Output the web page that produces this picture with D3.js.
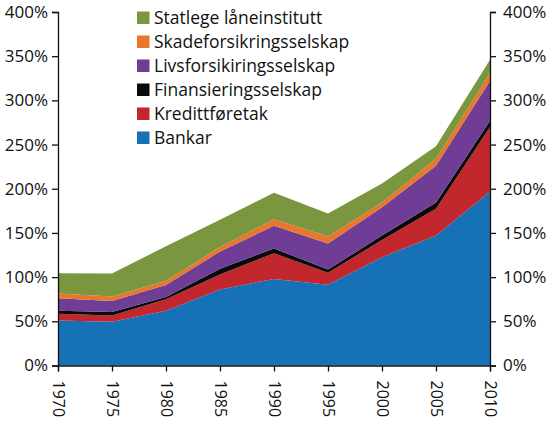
<!DOCTYPE html>
<html><head><meta charset="utf-8">
<script src="https://cdn.jsdelivr.net/npm/d3@7"></script>
<style>body{margin:0;background:#fff}svg{display:block}text{font-family:"Open Sans",sans-serif}</style>
</head><body><svg id="c" width="550" height="421"></svg>
<script>
const years = [1970,1975,1980,1985,1990,1995,2000,2005,2010];
const bankar = [51,49.5,62,86,98,91.5,122.5,147,197];
const kreditt = [7.5,7,13,17,29,13.5,19.5,30.5,73];
const finans = [3.5,4,2.5,6.5,5.5,3.5,5,7,7];
const livs = [14,12.5,13.5,19.5,25.5,29.5,32,41.5,45];
const skade = [5.5,5,5,5,7.5,8,5.5,8,9];
const statlege = [23,26,39,31,30,26,21.5,14,15];
const seriesNames = ["Bankar","Kredittføretak","Finansieringsselskap","Livsforsikiringsselskap","Skadeforsikringsselskap","Statlege låneinstitutt"];
const seriesVals = [bankar,kreditt,finans,livs,skade,statlege];
const colors = ["#1771b7","#c1272d","#0a0a0a","#6f3c96","#e8762b","#7a963e"];
const yTicks = [0,50,100,150,200,250,300,350,400];

const svg = d3.select("#c");
const L=58,R=490,T=12,B=365.5;
const x = d3.scaleLinear().domain([1970,2010]).range([L,R]);
const y = d3.scaleLinear().domain([0,400]).range([B,T]);

const rows = years.map((yr,i)=>{const o={year:yr};seriesNames.forEach((n,j)=>o[n]=seriesVals[j][i]);return o;});
const stack = d3.stack().keys(seriesNames)(rows);
const area = d3.area().x(d=>x(d.data.year)).y0(d=>y(d[0])).y1(d=>y(d[1]));
svg.append("g").selectAll("path").data(stack).join("path")
  .attr("d",area).attr("fill",(d,i)=>colors[i]);

const fs = 17;
const la = svg.append("g").attr("transform",`translate(${L},0)`)
  .call(d3.axisLeft(y).tickValues(yTicks).tickFormat(d=>d+"%").tickSizeOuter(0).tickSize(6).tickPadding(4));
const ra = svg.append("g").attr("transform",`translate(${R},0)`)
  .call(d3.axisRight(y).tickValues(yTicks).tickFormat(d=>d+"%").tickSizeOuter(0).tickSize(6).tickPadding(7));
const ba = svg.append("g").attr("transform",`translate(0,${B})`)
  .call(d3.axisBottom(x).tickValues(years).tickFormat(d=>d).tickSizeOuter(0).tickSize(6));
ba.selectAll("text").attr("transform","rotate(90)").attr("text-anchor","start")
  .attr("x",15).attr("y",0).attr("dy","0.35em").style("font-size","16px");
[la,ra].forEach(g=>g.selectAll("text").style("font-size",fs+"px"));
[la,ra,ba].forEach(g=>{
  g.selectAll("text").attr("fill","#111");
  g.selectAll("line,path").attr("stroke","#111").attr("stroke-width",1.3);
});

const leg = svg.append("g");
const order = seriesNames.slice().reverse();
order.forEach((n,i)=>{
  const ci = seriesNames.indexOf(n);
  const yy = 18 + i*24;
  leg.append("rect").attr("x",137).attr("y",yy-6.5).attr("width",12.5).attr("height",12.5).attr("fill",colors[ci]);
  leg.append("text").attr("x",154).attr("y",yy).attr("dy","0.35em").style("font-size","17.5px").attr("fill","#111").text(n);
});
</script></body></html>
